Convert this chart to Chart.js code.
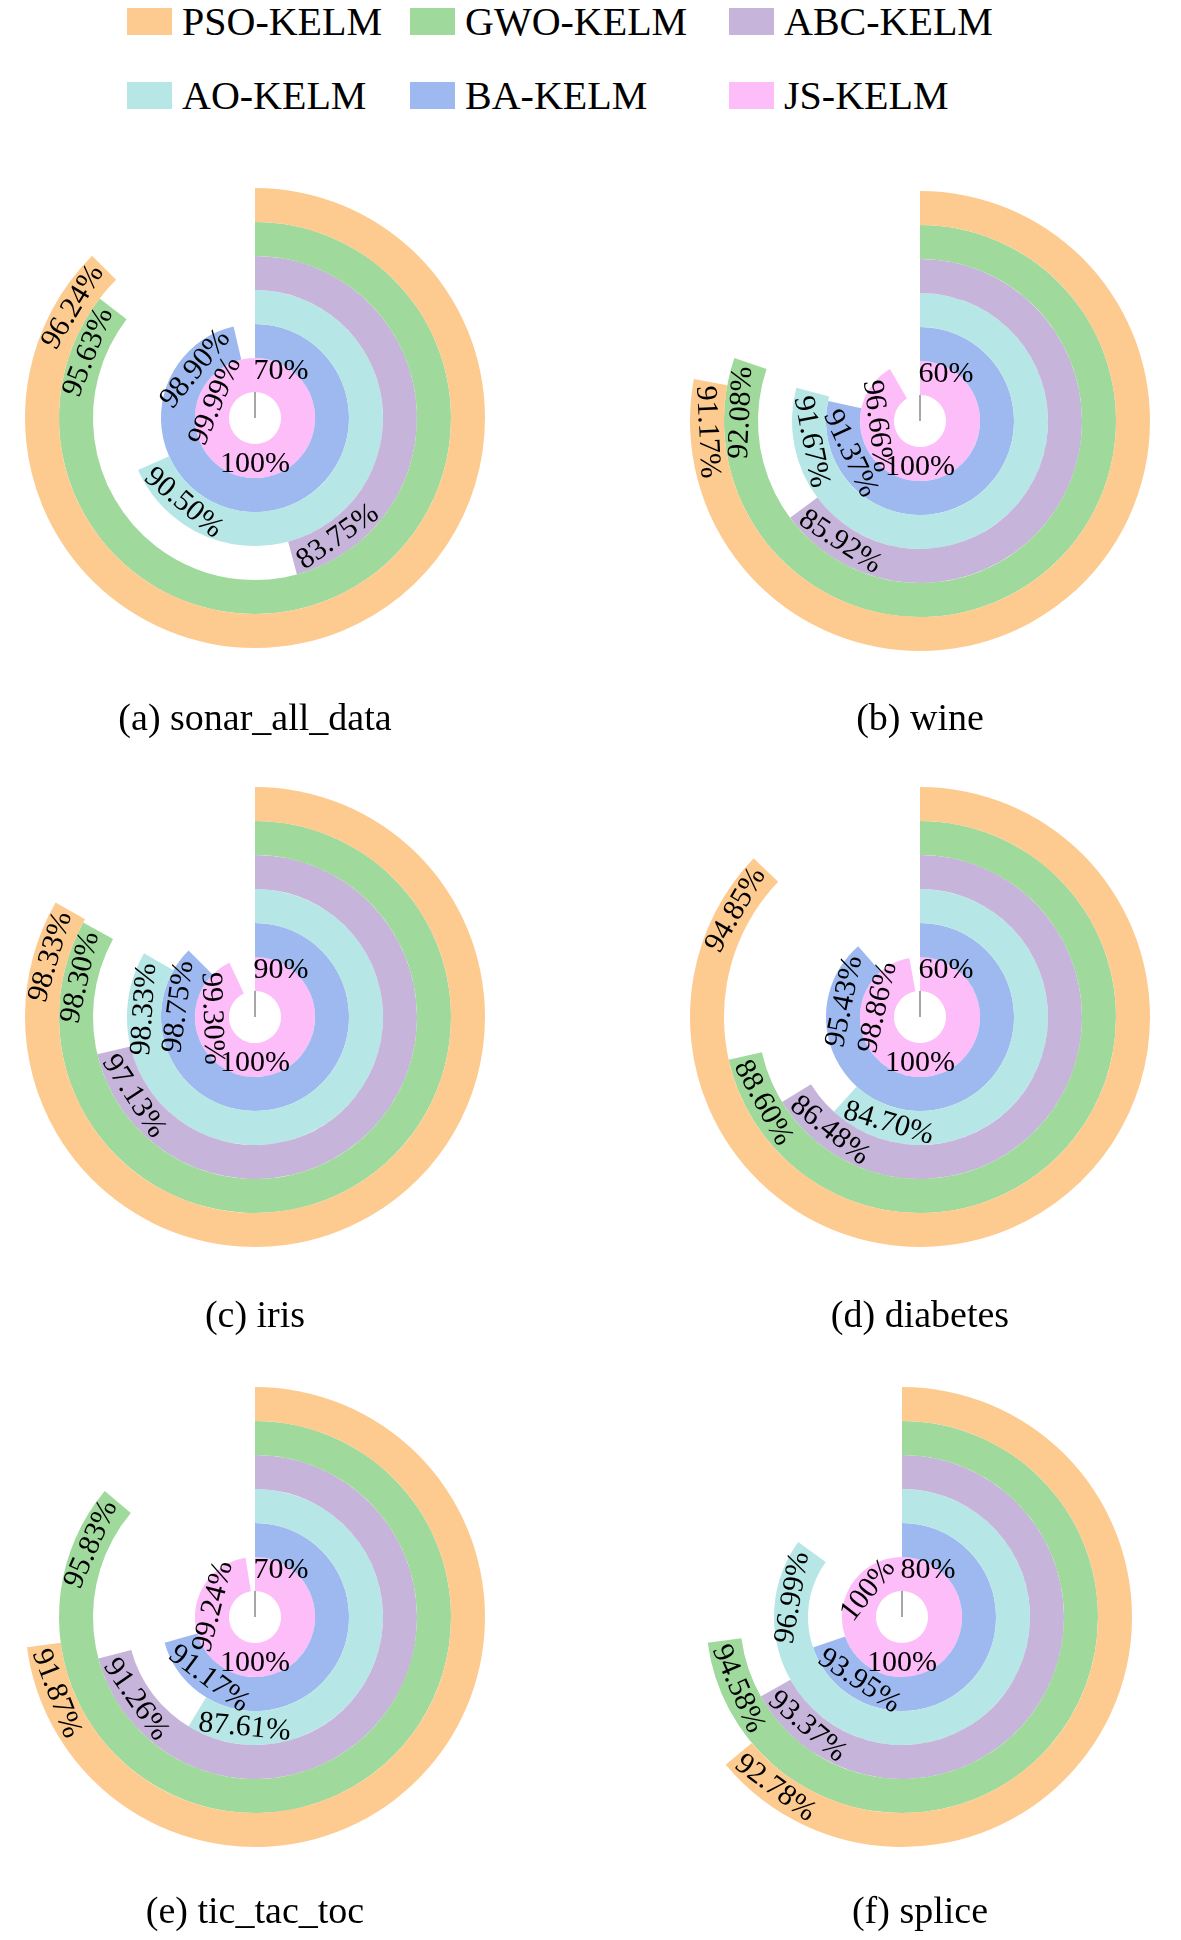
<!DOCTYPE html>
<html><head><meta charset="utf-8">
<script src="https://cdn.jsdelivr.net/npm/chart.js@4"></script>
<style>
body{margin:0;width:1181px;height:1940px;background:#fff;position:relative;font-family:"Liberation Serif",serif;}
.c{position:absolute;width:600px;height:600px;}
.t{position:absolute;font-size:38px;transform:translateX(-50%);white-space:nowrap;}
.lg{position:absolute;font-size:40px;display:flex;align-items:center;white-space:nowrap;}
.sw{width:45px;height:27px;margin-right:10px;}
</style></head><body>
<script>
const titles=['(a) sonar_all_data','(b) wine','(c) iris','(d) diabetes','(e) tic_tac_toc','(f) splice'];
const mins=[70,60,90,60,70,80];
const seriesNames=['PSO-KELM','GWO-KELM','ABC-KELM','AO-KELM','BA-KELM','JS-KELM'];
const colors=['#FDCB90','#9FD99B','#C6B4DA','#B6E7E6','#9DB9F0','#FDBDF9'];
const pso=[96.24,91.17,98.33,94.85,91.87,92.78];
const gwo=[95.63,92.08,98.30,88.60,95.83,94.58];
const abc=[83.75,85.92,97.13,86.48,91.26,93.37];
const ao=[90.50,91.67,98.33,84.70,87.61,96.99];
const ba=[98.90,91.37,98.75,95.43,91.17,93.95];
const js=[99.99,96.66,99.30,98.86,99.24,100];
const series=[pso,gwo,abc,ao,ba,js];

const centers=[[255,418],[920,421],[255,1017],[920,1017],[255,1617],[902,1617]];
const titlePos=[[255,695],[920,695],[255,1292],[920,1292],[255,1888],[920,1888]];
const legendPos=[[127,22],[410,22],[729,22],[127,96],[410,96],[729,96]];

seriesNames.forEach((n,i)=>{
  const d=document.createElement('div');d.className='lg';
  d.style.left=legendPos[i][0]+'px';d.style.top=(legendPos[i][1]-24)+'px';
  d.innerHTML='<div class="sw" style="background:'+colors[i]+'"></div>'+n;
  document.body.appendChild(d);
});
const fmt=v=>v===100?'100%':v.toFixed(2)+'%';
const F='30px "Liberation Serif"';
const labelPlugin={id:'lbl',afterDatasetsDraw(chart){
  const ctx=chart.ctx, k=chart.options.plugins.lbl.k;
  ctx.save();ctx.font=F;ctx.fillStyle='#000';ctx.textAlign='center';ctx.textBaseline='middle';
  let cx,cy,inner;
  series.forEach((s,i)=>{
    const arc=chart.getDatasetMeta(i).data[0];
    cx=arc.x;cy=arc.y;
    const r=(arc.innerRadius+arc.outerRadius)/2;
    if(i===5) inner=arc.innerRadius;
    const txt=fmt(s[k]);
    const w=ctx.measureText(txt).width;
    const a=arc.endAngle-(w/2+4)/r;
    let th=a+Math.PI/2; // tangent rotation
    while(th>Math.PI)th-=2*Math.PI;
    if(th>Math.PI/2)th-=Math.PI;
    if(th<-Math.PI/2)th+=Math.PI;
    ctx.save();ctx.translate(cx+r*Math.cos(a),cy+r*Math.sin(a));ctx.rotate(th);
    ctx.fillText(txt,0,0);ctx.restore();
  });
  ctx.strokeStyle='#888';ctx.lineWidth=1.5;
  ctx.beginPath();ctx.moveTo(cx,cy-inner);ctx.lineTo(cx,cy);ctx.stroke();
  ctx.fillText(mins[k]+'%',cx+26,cy-47);
  ctx.fillText('100%',cx,cy+46);
  ctx.restore();
}};
titles.forEach((t,k)=>{
  const cv=document.createElement('canvas');cv.className='c';
  cv.style.left=(centers[k][0]-300)+'px';cv.style.top=(centers[k][1]-300)+'px';
  document.body.appendChild(cv);
  const tt=document.createElement('div');tt.className='t';tt.textContent=t;
  tt.style.left=titlePos[k][0]+'px';tt.style.top=titlePos[k][1]+'px';
  document.body.appendChild(tt);
  new Chart(cv,{type:'doughnut',plugins:[labelPlugin],
    data:{labels:['v','rest'],datasets:series.map((s,i)=>({data:[s[k]-mins[k],100-s[k]],backgroundColor:[colors[i],'rgba(0,0,0,0)'],borderWidth:0}))},
    options:{responsive:false,animation:false,radius:230,cutout:34,
      plugins:{legend:{display:false},tooltip:{enabled:false},lbl:{k}}}});
});
</script>
</body></html>
